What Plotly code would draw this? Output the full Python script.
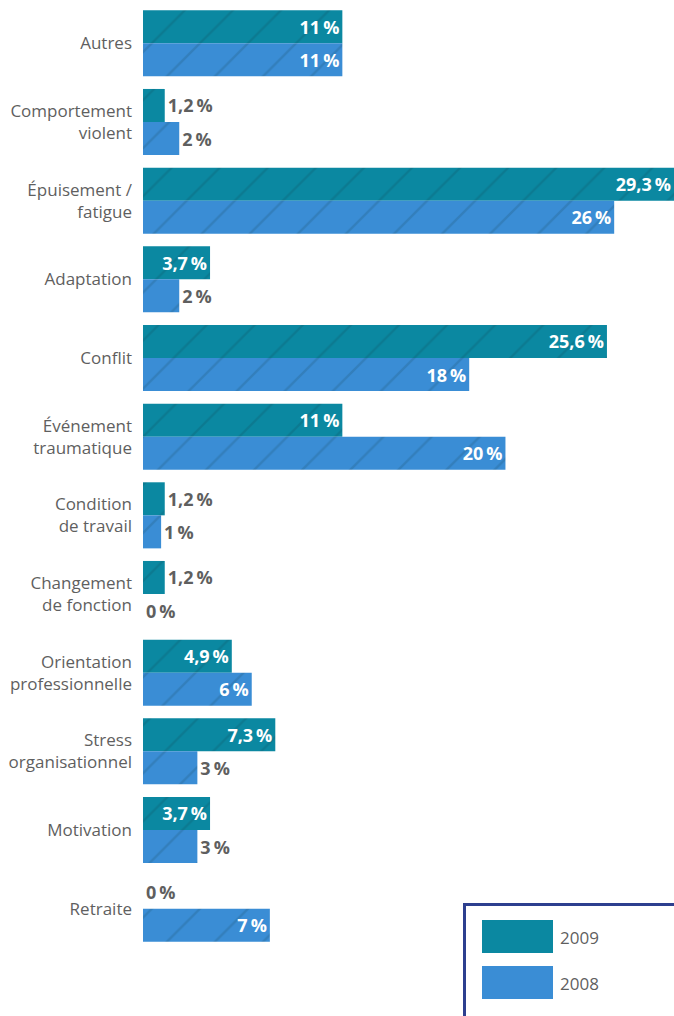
import plotly.graph_objects as go

categories = [
    "Autres", "Comportement<br>violent", "Épuisement /<br>fatigue", "Adaptation",
    "Conflit", "Événement<br>traumatique", "Condition<br>de travail",
    "Changement<br>de fonction", "Orientation<br>professionnelle",
    "Stress<br>organisationnel", "Motivation", "Retraite",
]
values_2009 = [11, 1.2, 29.3, 3.7, 25.6, 11, 1.2, 1.2, 4.9, 7.3, 3.7, 0]
values_2008 = [11, 2, 26, 2, 18, 20, 1, 0, 6, 3, 3, 7]
series_names = ["2009", "2008"]

COLOR_2009 = "#0b88a1"
COLOR_2008 = "#3a8dd5"
LABEL_GREY = "#5f5f5f"
FONT = "Open Sans"
INSIDE_MIN = 3.5


def fmt(v):
    s = f"{v:g}".replace(".", ",")
    return s + "\u2009%"


def bar_trace(name, vals, color):
    pos = ["inside" if v >= INSIDE_MIN else "outside" for v in vals]
    return go.Bar(
        name=name,
        y=categories,
        x=vals,
        orientation="h",
        marker=dict(
            color=color,
            line=dict(width=0),
            pattern=dict(shape="/", fgcolor="#0d3a45", fgopacity=0.18,
                         size=34, solidity=0.07),
        ),
        text=[fmt(v) for v in vals],
        textposition=pos,
        insidetextanchor="end",
        constraintext="none",
        insidetextfont=dict(family=FONT, size=18, color="white", weight="bold"),
        outsidetextfont=dict(family=FONT, size=18, color=LABEL_GREY, weight="bold"),
        cliponaxis=False,
        hoverinfo="skip",
    )


fig = go.Figure([
    bar_trace(series_names[0], values_2009, COLOR_2009),
    bar_trace(series_names[1], values_2008, COLOR_2008),
])

W, H = 674, 1016
ML, MR, MT, MB = 143, 0, 4, 68
PW, PH = W - ML - MR, H - MT - MB

fig.update_layout(
    width=W, height=H,
    margin=dict(l=ML, r=MR, t=MT, b=MB, pad=0),
    barmode="group",
    bargap=0.16,
    bargroupgap=0,
    showlegend=False,
    plot_bgcolor="white",
    paper_bgcolor="white",
    font=dict(family=FONT, color=LABEL_GREY),
)
fig.update_xaxes(range=[0, 29.3], visible=False, fixedrange=True)
fig.update_yaxes(
    autorange="reversed",
    showgrid=False, zeroline=False, showline=False,
    ticks="", ticklabelstandoff=10,
    tickfont=dict(family=FONT, size=17, color=LABEL_GREY),
)


def px_x(px):
    return (px - ML) / PW


def px_y(py):
    return (H - MB - py) / PH


# Legend box drawn in the lower right corner
fig.add_shape(type="rect", xref="paper", yref="paper",
              x0=px_x(464.5), x1=px_x(680), y0=px_y(904.5), y1=px_y(1030),
              line=dict(color="#2d3f8f", width=3), fillcolor="rgba(0,0,0,0)")
for i, (name, color) in enumerate(zip(series_names, [COLOR_2009, COLOR_2008])):
    top = 920 + i * 46
    fig.add_shape(type="rect", xref="paper", yref="paper",
                  x0=px_x(482), x1=px_x(553), y0=px_y(top + 33), y1=px_y(top),
                  line=dict(width=0), fillcolor=color)
    fig.add_annotation(xref="paper", yref="paper",
                       x=px_x(558), y=px_y(top + 17), text=name,
                       xanchor="left", yanchor="middle", showarrow=False,
                       font=dict(family=FONT, size=17, color=LABEL_GREY))

fig.write_html("out.html")
